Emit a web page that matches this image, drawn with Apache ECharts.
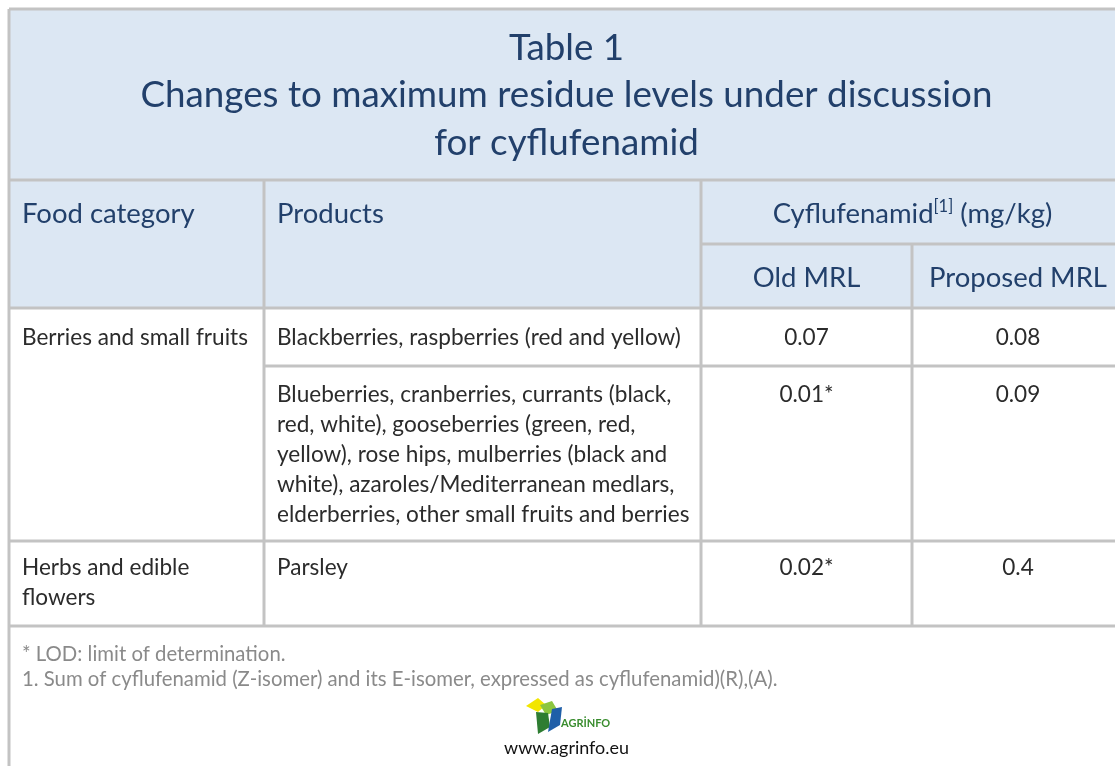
<!DOCTYPE html>
<html>
<head>
<meta charset="utf-8">
<script src="https://cdn.jsdelivr.net/npm/echarts@6/dist/echarts.min.js"></script>
<style>
html,body{margin:0;padding:0;background:#fff;}
#main{width:1115px;height:766px;}
</style>
</head>
<body>
<div id="main"></div>
<script>
// ---------- data ----------
const titleLines = ["Table 1", "Changes to maximum residue levels under discussion", "for cyflufenamid"];
const headerCols = ["Food category", "Products"];
const substanceHeader = ["Cyflufenamid", "[1]", " (mg/kg)"];
const mrlHeaders = ["Old MRL", "Proposed MRL"];
const categories = ["Berries and small fruits", "Herbs and edible\nflowers"];
const categorySpan = [2, 1];
const products = [
  "Blackberries, raspberries (red and yellow)",
  "Blueberries, cranberries, currants (black,\nred, white), gooseberries (green, red,\nyellow), rose hips, mulberries (black and\nwhite), azaroles/Mediterranean medlars,\nelderberries, other small fruits and berries",
  "Parsley"
];
const oldMRL = ["0.07", "0.01*", "0.02*"];
const proposedMRL = ["0.08", "0.09", "0.4"];
const notes = [
  "* LOD: limit of determination.",
  "1. Sum of cyflufenamid (Z-isomer) and its E-isomer, expressed as cyflufenamid)(R),(A)."
];
const sourceText = "www.agrinfo.eu";
const logoText = "AGRİNFO";

// ---------- layout ----------
const FONT = "Lato, 'Noto Sans', sans-serif";
const L = 9, R = 1124, TOP = 9;
const colX = [L, 264, 701, 912, R];
const titleBottom = 180, subHeadY = 244, headBottom = 308;
const rowBottoms = [366, 541, 626];
const BORDER = "#c3c3c3", BW = 3;
const HEAD_BG = "#dce7f3", NAVY = "#22406b", BODY = "#2b2b2b", GREY = "#8a8a8a";

// fit font size so a sample string has the measured pixel width of the reference
const mctx = document.createElement('canvas').getContext('2d');
function fit(sample, targetW) {
  mctx.font = '100px ' + FONT;
  return 100 * targetW / mctx.measureText(sample).width;
}
const TITLE_FS = fit(titleLines[1], 852);
const HEAD_FS = fit(mrlHeaders[1], 178);
const BODY_FS = fit(products[0], 404);
const NOTE_FS = fit(notes[1], 756);
const URL_FS = fit(sourceText, 125);

const g = [];
function line(x1, y1, x2, y2) {
  g.push({type: 'line', shape: {x1, y1, x2, y2}, style: {stroke: BORDER, lineWidth: BW}, z: 10});
}
function text(t, x, yc, size, color, align, lh) {
  // yc = vertical centre of the first line
  lh = lh || size * 1.3;
  g.push({type: 'text', x, y: yc - lh / 2, style: {text: t, font: size + 'px ' + FONT, fill: color,
    align: align || 'left', verticalAlign: 'top', lineHeight: lh}, z: 20});
}
// backgrounds
g.push({type: 'rect', shape: {x: L, y: TOP, width: R - L, height: headBottom - TOP}, style: {fill: HEAD_BG}, z: 1});

// title
const titleCenter = (L + R) / 2;
titleLines.forEach((t, i) => text(t, titleCenter, 48 + i * 47.5, TITLE_FS, NAVY, 'center', 40));

// header
text(headerCols[0], colX[0] + 13, 214, HEAD_FS, NAVY);
text(headerCols[1], colX[1] + 13, 214, HEAD_FS, NAVY);
g.push({type: 'text', x: (colX[2] + colX[4]) / 2, y: 214 - HEAD_FS * 0.65, style: {
  text: substanceHeader[0] + '{sup|' + substanceHeader[1] + '}' + substanceHeader[2],
  font: HEAD_FS + 'px ' + FONT, fill: NAVY, align: 'center', verticalAlign: 'top', lineHeight: HEAD_FS * 1.3,
  rich: {sup: {fontSize: HEAD_FS * 0.6, fontFamily: FONT, fill: NAVY, verticalAlign: 'top', padding: [3, 0, 0, 0]}}
}, z: 20});
text(mrlHeaders[0], (colX[2] + colX[3]) / 2, 278, HEAD_FS, NAVY, 'center');
text(mrlHeaders[1], (colX[3] + colX[4]) / 2, 278, HEAD_FS, NAVY, 'center');

// body rows
const rowTops = [headBottom, rowBottoms[0], rowBottoms[1]];
const rowPad = [30, 29, 27];
const LH = 29.9;
let r = 0;
categories.forEach((c, ci) => {
  text(c, colX[0] + 13, rowTops[r] + rowPad[r], BODY_FS, BODY, 'left', LH);
  r += categorySpan[ci];
});
products.forEach((p, i) => {
  text(p, colX[1] + 13, rowTops[i] + rowPad[i], BODY_FS, BODY, 'left', LH);
  text(oldMRL[i], (colX[2] + colX[3]) / 2, rowTops[i] + rowPad[i], BODY_FS, BODY, 'center', LH);
  text(proposedMRL[i], (colX[3] + colX[4]) / 2, rowTops[i] + rowPad[i], BODY_FS, BODY, 'center', LH);
});

// notes
notes.forEach((n, i) => text(n, L + 13, 654 + i * 25, NOTE_FS, GREY, 'left', 24));

// logo
const lx = 524, ly = 697;
g.push({type: 'polygon', shape: {points: [[lx+2, ly+9], [lx+14, ly+1], [lx+22, ly+8], [lx+14, ly+15]]}, style: {fill: '#f2e600'}, z: 20});
g.push({type: 'polygon', shape: {points: [[lx+16, ly+8], [lx+28, ly+4], [lx+34, ly+14], [lx+22, ly+18]]}, style: {fill: '#8cc63f'}, z: 21});
g.push({type: 'polygon', shape: {points: [[lx+12, ly+15], [lx+24, ly+16], [lx+26, ly+30], [lx+14, ly+37]]}, style: {fill: '#2e7d32'}, z: 21});
g.push({type: 'polygon', shape: {points: [[lx+28, ly+12], [lx+38, ly+10], [lx+36, ly+28], [lx+24, ly+35]]}, style: {fill: '#1f5fa8'}, z: 22});
g.push({type: 'text', x: lx + 37, y: ly + 21, style: {text: logoText, font: 'bold 11px ' + FONT, fill: '#3a8d2f', verticalAlign: 'top'}, z: 22});
text(sourceText, titleCenter, 748, URL_FS, '#111', 'center', 22);

// borders
line(L, TOP, R, TOP);
line(L, TOP, L, 766);
line(L, titleBottom, R, titleBottom);
line(colX[2], subHeadY, R, subHeadY);
line(L, headBottom, R, headBottom);
line(colX[1], rowBottoms[0], R, rowBottoms[0]);
line(L, rowBottoms[1], R, rowBottoms[1]);
line(L, rowBottoms[2], R, rowBottoms[2]);
line(colX[1], titleBottom, colX[1], rowBottoms[2]);
line(colX[2], titleBottom, colX[2], rowBottoms[2]);
line(colX[3], subHeadY, colX[3], rowBottoms[2]);

const chart = echarts.init(document.getElementById('main'), null, {renderer: 'canvas'});
chart.setOption({backgroundColor: '#fff', animation: false, graphic: {elements: g}});
</script>
</body>
</html>
